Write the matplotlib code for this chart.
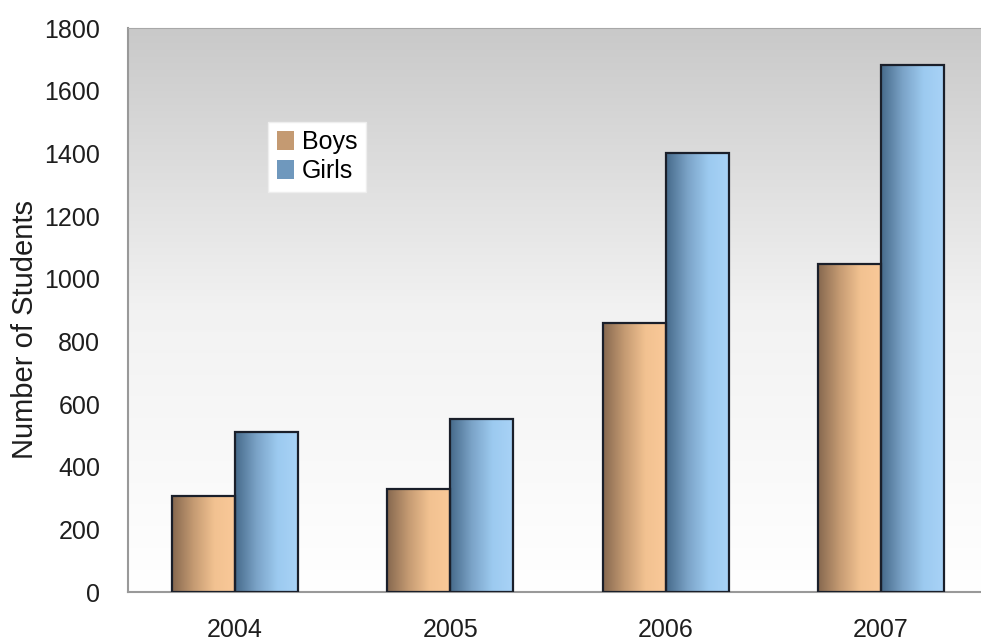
import matplotlib.pyplot as plt
import numpy as np
from matplotlib.colors import LinearSegmentedColormap
from matplotlib.patches import Patch

plt.rcParams['font.family'] = ['Liberation Sans', 'DejaVu Sans']

years = ['2004', '2005', '2006', '2007']
boys = [305, 330, 858, 1048]
girls = [512, 552, 1402, 1682]

boys_cmap = LinearSegmentedColormap.from_list('boys', ['#86684f', '#c49a72', '#f2c291', '#fac999'])
girls_cmap = LinearSegmentedColormap.from_list('girls', ['#466a8a', '#7aa2c6', '#9ccaf0', '#a9d3f7'])
bg_cmap = LinearSegmentedColormap.from_list('bg', ['#ffffff', '#f2f2f2', '#c9c9c9'])

fig = plt.figure(figsize=(9.81, 6.42), dpi=100)
ax = fig.add_axes([128 / 981, 50 / 642, 853 / 981, 564 / 642])

# background gradient
grad = np.linspace(0, 1, 256).reshape(-1, 1)
ax.imshow(grad, cmap=bg_cmap, origin='lower', aspect='auto', extent=[0, 1, 0, 1],
          transform=ax.transAxes, zorder=0)

x = np.arange(len(years))
w = 0.293
hgrad = np.linspace(0, 1, 256).reshape(1, -1)

def gradient_bars(xs, vals, cmap):
    bars = ax.bar(xs, vals, w, facecolor='none', edgecolor='#1a1f2a', linewidth=1.6, zorder=3)
    for b in bars:
        im = ax.imshow(hgrad, cmap=cmap, aspect='auto',
                       extent=[b.get_x(), b.get_x() + b.get_width(), 0, b.get_height()], zorder=2)
        im.set_clip_path(b)
    return bars

gradient_bars(x - w / 2, boys, boys_cmap)
gradient_bars(x + w / 2, girls, girls_cmap)

ax.set_xlim(-0.497, 3.465)
ax.set_ylim(0, 1800)
ax.set_yticks(range(0, 1801, 200))
ax.set_xticks(x)
ax.set_xticklabels(years)
ax.tick_params(axis='both', length=0, labelsize=18, colors='#1e1e1e')
ax.tick_params(axis='y', pad=20)
ax.tick_params(axis='x', pad=19)
ax.set_ylabel('Number of Students', fontsize=21, color='#1e1e1e')
ax.yaxis.set_label_coords(-0.104, 0.465)

ax.spines['right'].set_visible(False)
ax.spines['top'].set_color('#a8a8a8')
ax.spines['left'].set_color('#999999')
ax.spines['bottom'].set_color('#999999')
ax.spines['left'].set_linewidth(1.5)
ax.spines['bottom'].set_linewidth(1.5)

handles = [Patch(facecolor='#c49a72', edgecolor='none', label='Boys'),
           Patch(facecolor='#6f98bd', edgecolor='none', label='Girls')]
leg = ax.legend(handles=handles, loc='upper left', bbox_to_anchor=(0.164, 0.834),
                borderaxespad=0, fontsize=18, frameon=True, fancybox=False,
                handlelength=0.7, handleheight=0.8, handletextpad=0.3,
                labelspacing=0.2, borderpad=0.35)
leg.get_frame().set_facecolor('white')
leg.get_frame().set_edgecolor('#eeeeee')
leg.get_frame().set_alpha(1)

fig.savefig('out.png', dpi=100)
